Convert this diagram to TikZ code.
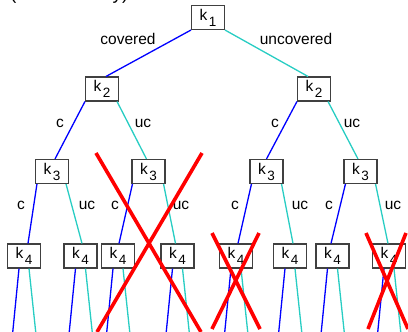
\documentclass[tikz,border=0pt]{standalone}
\usepackage{fontspec}
\setmainfont{Liberation Sans}
\usetikzlibrary{calc}
\definecolor{covblue}{RGB}{0,0,255}
\definecolor{unccyan}{RGB}{40,205,195}
\newcommand{\ksub}[1]{k\hspace{1.5pt}\raisebox{-6pt}{\fontsize{13.5}{14}\selectfont #1}}

\begin{document}
\begin{tikzpicture}[
    x=1pt, y=-1pt,
    kbox/.style={rectangle, draw=black!75, fill=white, line width=1.1pt, minimum width=33pt, minimum height=24pt, inner sep=0pt, font=\fontsize{15.5}{16}\selectfont},
    lbl/.style={anchor=base, inner sep=0pt, font=\fontsize{15.5}{16}\selectfont},
    cov/.style={covblue, line width=1.3pt},
    unc/.style={unccyan, line width=1.3pt},
    cross/.style={red, line width=3.6pt}
]
\useasboundingbox (0,0) rectangle (408,332);

% title, cut off at the top
\node[anchor=base west, inner sep=0pt, font=\fontsize{18.8}{20}\selectfont] (title) at (10,-0.8) {(Redundancy)};

\node[kbox] (k1) at (208,17.5) {\ksub{1}};
\node[kbox] (k2a) at (102,89) {\ksub{2}};
\node[kbox] (k2b) at (314,89) {\ksub{2}};
\node[kbox] (k3a) at (52,171.5) {\ksub{3}};
\node[kbox] (k3b) at (148.5,171.5) {\ksub{3}};
\node[kbox] (k3c) at (266.5,171.5) {\ksub{3}};
\node[kbox] (k3d) at (360.5,171.5) {\ksub{3}};
\node[kbox] (k4a) at (24,256) {\ksub{4}};
\node[kbox] (k4b) at (80.5,256) {\ksub{4}};
\node[kbox] (k4c) at (118,256) {\ksub{4}};
\node[kbox] (k4d) at (177.5,256) {\ksub{4}};
\node[kbox] (k4e) at (236,256) {\ksub{4}};
\node[kbox] (k4f) at (290,256) {\ksub{4}};
\node[kbox] (k4g) at (332.5,256) {\ksub{4}};
\node[kbox] (k4h) at (389,256) {\ksub{4}};

\draw[cov] (k1.south west) -- ([xshift=4pt]k2a.north);
\draw[unc] (k1.south east) -- ([xshift=-6pt]k2b.north);

\draw[cov] (k2a.south west) -- ([xshift=3pt]k3a.north);
\draw[unc] ([xshift=-2pt]k2a.south east) -- ([xshift=-2pt]k3b.north);
\draw[cov] (k2b.south west) -- (k3c.north);
\draw[unc] ([xshift=-3pt]k2b.south east) -- ([xshift=-2.5pt]k3d.north);

\draw[cov] ([xshift=2pt]k3a.south west) -- ([xshift=4pt]k4a.north);
\draw[unc] ([xshift=-3pt]k3a.south east) -- ([xshift=1.5pt]k4b.north);
\draw[cov] ([xshift=1pt]k3b.south west) -- ([xshift=1pt]k4c.north);
\draw[unc] ([xshift=-2pt]k3b.south east) -- ([xshift=-2pt]k4d.north);
\draw[cov] ([xshift=2pt]k3c.south west) -- ([xshift=2pt]k4e.north);
\draw[unc] ([xshift=-2pt]k3c.south east) -- ([xshift=3pt]k4f.north);
\draw[cov] ([xshift=2pt]k3d.south west) -- ([xshift=-1.5pt]k4g.north);
\draw[unc] ([xshift=-2pt]k3d.south east) -- ([xshift=-1pt]k4h.north);

% branches running off the bottom
\foreach \n in {a,...,h} {
  \coordinate (\n-cov) at ($(k4\n.south)+(-11.5,66)$);
  \coordinate (\n-unc) at ($(k4\n.south)+(12,66)$);
  \draw[cov] ([xshift=-5pt]k4\n.south) -- (\n-cov);
  \draw[unc] ([xshift=5pt]k4\n.south) -- (\n-unc);
}

\node[lbl] (l1c) at (128,45) {covered};
\node[lbl] (l1u) at (296,45) {uncovered};
\node[lbl] (l2a) at (60,127) {c};
\node[lbl] (l2b) at (143,127) {uc};
\node[lbl] (l2c) at (275,127) {c};
\node[lbl] (l2d) at (352,127) {uc};
\node[lbl] (l3a) at (21,209) {c};
\node[lbl] (l3b) at (87,209) {uc};
\node[lbl] (l3c) at (115,209) {c};
\node[lbl] (l3d) at (181,209) {uc};
\node[lbl] (l3e) at (235,209) {c};
\node[lbl] (l3f) at (300,209) {uc};
\node[lbl] (l3g) at (329,209) {c};
\node[lbl] (l3h) at (393,209) {uc};

% pruned subtrees
\draw[cross] (96,153) -- (201,332);
\draw[cross] (202,153) -- (97,332);
\draw[cross] (212,233) -- (260,329);
\draw[cross] (259,233) -- (212,329);
\draw[cross] (366,233) -- (408,329);
\draw[cross] (406,233) -- (368,329);
\end{tikzpicture}
\end{document}
